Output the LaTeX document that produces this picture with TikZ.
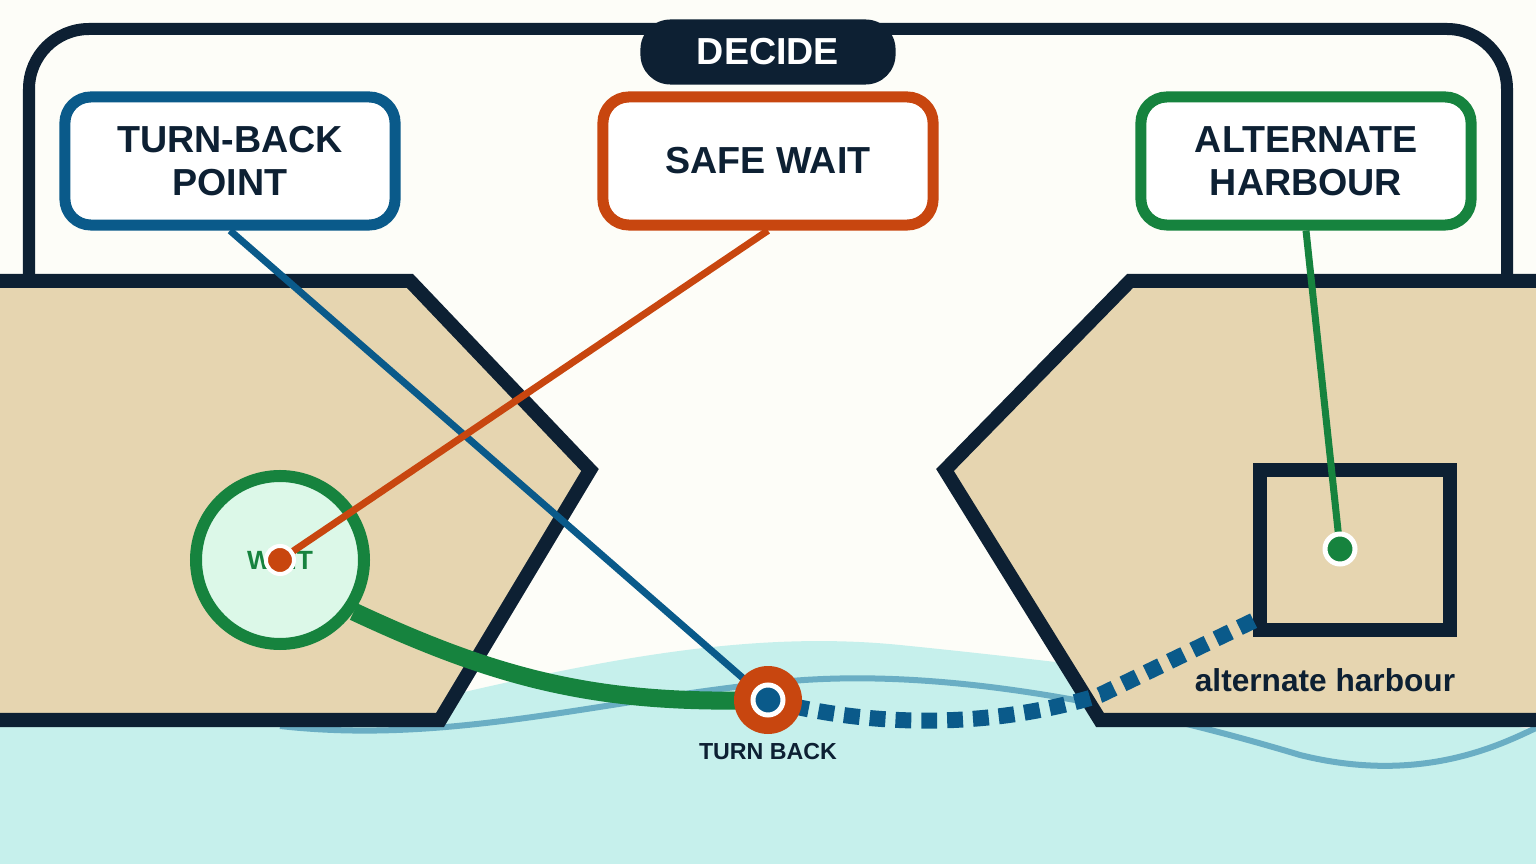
\documentclass[tikz,border=0pt]{standalone}
\usepackage{fontspec}
\setmainfont{Liberation Sans}
\definecolor{navy}{HTML}{0D2033}
\definecolor{paper}{HTML}{FDFDF8}
\definecolor{sand}{HTML}{E6D5B0}
\definecolor{sea}{HTML}{C6F0EC}
\definecolor{wave}{HTML}{6AAEC4}
\definecolor{tbblue}{HTML}{0A5A8A}
\definecolor{waitred}{HTML}{C8460F}
\definecolor{altgreen}{HTML}{16833E}
\definecolor{mint}{HTML}{DCF8E8}
\tikzset{
  px/.style={line width=#1*0.2845pt},
  label box/.style={draw=#1, px=11, fill=white, rounded corners=2.6mm,
    minimum width=3.3cm, minimum height=1.28cm, align=center,
    font=\fontsize{10.7}{12.2}\selectfont\bfseries, text=navy},
  spot/.style={circle, inner sep=0pt, minimum size=#1*0.01cm}
}
\begin{document}
\begin{tikzpicture}[x=0.01cm,y=-0.01cm]
\useasboundingbox (0,0) rectangle (1536,864);
\fill[paper] (0,0) rectangle (1536,864);

%Rahmen
\draw[navy, px=12, fill=paper, rounded corners=6mm] (29,300) -- (29,29) -- (1507,29) -- (1507,300);

%Wasser
\fill[sea] (0,864) -- (0,720) -- (430,700) .. controls (600,660) and (750,630) .. (900,645)
  .. controls (1050,660) and (1300,690) .. (1536,730) -- (1536,864) -- cycle;
\draw[wave, px=6] (280,726) .. controls (450,745) and (600,700) .. (780,682)
  .. controls (950,665) and (1150,710) .. (1300,755) .. controls (1420,785) and (1500,745) .. (1536,728);

%Land
\draw[navy, px=14, fill=sand, line join=miter] (-20,281) -- (410,281) -- (590,470) -- (440,720) -- (-20,720) -- cycle;
\draw[navy, px=14, fill=sand, line join=miter] (1556,281) -- (1130,281) -- (945,470) -- (1100,720) -- (1556,720) -- cycle;
\draw[navy, px=14] (1260,470) rectangle (1450,630);

%Kaesten
\node[label box=tbblue] (tbp) at (230,161) {TURN-BACK\\POINT};
\node[label box=waitred] (safe) at (768,161) {SAFE WAIT};
\node[label box=altgreen] (alt) at (1306,161) {ALTERNATE\\HARBOUR};
\node[fill=navy, rounded corners=3mm, minimum width=2.55cm, minimum height=0.65cm,
  text=white, font=\fontsize{10.7}{12}\selectfont\bfseries] (decide) at (768,52) {DECIDE};

%Warteplatz
\node[spot=168, draw=altgreen, px=12, fill=mint, text=altgreen,
  font=\fontsize{7.5}{9}\selectfont\bfseries] (wait) at (280,560) {WAIT};
\coordinate (harbour) at (1340,549);
\coordinate (back) at (768,700);

%Verbindungen
\draw[tbblue, px=7] (tbp.south) -- (back);
\draw[waitred, px=7] (safe.south) -- (wait.center);
\draw[altgreen, px=7] (alt.south) -- (harbour);
\draw[altgreen, px=18] (wait.-35) .. controls (500,680) and (600,705) .. (back);
\draw[tbblue, px=16, dash pattern=on 4.5pt off 2.85pt]
  (back) .. controls (900,735) and (1020,720) .. (1100,695) -- (1255,620);

%Punkte
\node[spot=28, fill=waitred, draw=white, px=4] at (wait.center) {};
\node[spot=30, fill=altgreen, draw=white, px=5] at (harbour) {};
\node[spot=68, fill=waitred] (backring) at (back) {};
\node[spot=30, fill=tbblue, draw=white, px=5] at (back) {};

\node[text=navy, font=\fontsize{6.6}{8}\selectfont\bfseries] (backlabel) at (768,752) {TURN BACK};
\node[text=navy, font=\fontsize{9}{10}\selectfont\bfseries] (altlabel) at (1325,680) {alternate harbour};
\end{tikzpicture}
\end{document}
